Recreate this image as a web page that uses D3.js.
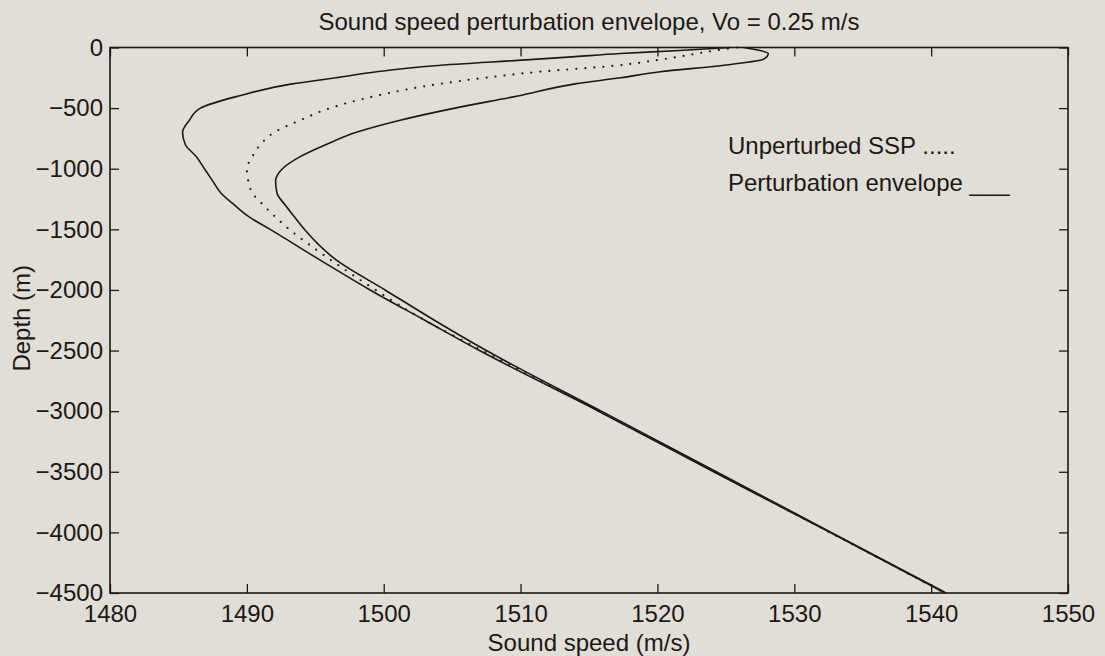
<!DOCTYPE html>
<html>
<head>
<meta charset="utf-8">
<script src="https://cdn.jsdelivr.net/npm/d3@7"></script>
<style>
  body { margin: 0; background: #e0ded6; }
  svg text { font-family: "Liberation Sans", Arial, sans-serif; fill: #1c1816; }
</style>
</head>
<body>
<div id="chart"></div>
<script>
let width = 1105, height = 656;
let margin = {top: 47.5, right: 37, bottom: 63, left: 110};

// depths (m) shared by the three profiles
let depths = [0, -25, -50, -75, -100, -150, -200, -250, -300, -400, -500, -600, -700, -800,
    -900, -1000, -1100, -1200, -1300, -1400, -1500, -1750, -2000, -2250, -2500,
    -3000, -3500, -4000, -4500];

// unperturbed sound speed profile (dotted)
let ssp = [1525.8, 1524.2, 1522.9, 1521.6, 1520.2, 1516.9, 1511.4, 1507.4, 1504.1, 1499.4,
    1496.1, 1493.9, 1492.0, 1491.0, 1490.4, 1490.0, 1490.1, 1490.4, 1491.2, 1492.1,
    1493.1, 1496.1, 1499.4, 1503.0, 1507.2, 1515.8, 1524.2, 1532.6, 1541.0];

// perturbation envelope, lower and upper bound
let envMin = [1525.3, 1521.6, 1517.3, 1514.0, 1510.7, 1503.7, 1499.5, 1496.5, 1493.3, 1489.4,
    1486.6, 1485.8, 1485.3, 1485.5, 1486.3, 1486.9, 1487.5, 1488.1, 1489.1, 1490.2,
    1491.7, 1495.3, 1499.0, 1503.0, 1507.0, 1515.7, 1524.1, 1532.6, 1541.0];
let envMax = [1526.3, 1527.5, 1528.1, 1528.0, 1527.7, 1524.6, 1520.2, 1517.3, 1514.0, 1509.8,
    1505.2, 1501.2, 1498.0, 1495.8, 1493.9, 1492.6, 1492.1, 1492.2, 1492.8, 1493.5,
    1494.2, 1496.5, 1500.1, 1503.7, 1507.5, 1515.9, 1524.3, 1532.7, 1541.1];

let xTicks = [1480, 1490, 1500, 1510, 1520, 1530, 1540, 1550];
let yTicks = [0, -500, -1000, -1500, -2000, -2500, -3000, -3500, -4000, -4500];

let titleText = "Sound speed perturbation envelope, Vo = 0.25 m/s";
let legendLabels = ["Unperturbed SSP .....", "Perturbation envelope ___"];

let w = width - margin.left - margin.right;
let h = height - margin.top - margin.bottom;
let ink = "#1c1816";
let fontSize = "24px";

let xScale = d3.scaleLinear().domain([1480, 1550]).range([0, w]);
let yScale = d3.scaleLinear().domain([-4500, 0]).range([h, 0]);

let svg = d3.select("#chart")
    .append("svg")
    .attr("width", width)
    .attr("height", height)
    .append("g")
    .attr("transform", "translate(" + margin.left + "," + margin.top + ")");

// axes, ticks pointing inward on all four sides
let fmt = d3.format("d");
svg.append("g")
    .attr("transform", "translate(0," + h + ")")
    .call(d3.axisBottom(xScale).tickValues(xTicks).tickFormat(fmt).tickSizeInner(-9).tickSizeOuter(0).tickPadding(12));
svg.append("g")
    .call(d3.axisTop(xScale).tickValues(xTicks).tickFormat("").tickSizeInner(-9).tickSizeOuter(0));
svg.append("g")
    .call(d3.axisLeft(yScale).tickValues(yTicks).tickFormat(fmt).tickSizeInner(-9).tickSizeOuter(0).tickPadding(7));
svg.append("g")
    .attr("transform", "translate(" + w + ",0)")
    .call(d3.axisRight(yScale).tickValues(yTicks).tickFormat("").tickSizeInner(-9).tickSizeOuter(0));

svg.selectAll(".domain").remove();
svg.selectAll(".tick line").attr("stroke", ink).attr("stroke-width", 1.3);
svg.selectAll(".tick text").attr("fill", ink).style("font-size", fontSize);

svg.append("rect")
    .attr("width", w)
    .attr("height", h)
    .attr("fill", "none")
    .attr("stroke", ink)
    .attr("stroke-width", 1.6);

// profiles
let line = (vals) => d3.line()
    .x((d, i) => xScale(vals[i]))
    .y(d => yScale(d))
    .curve(d3.curveMonotoneY)(depths);

svg.append("path")
    .attr("d", line(ssp))
    .attr("fill", "none")
    .attr("stroke", ink)
    .attr("stroke-width", 2.2)
    .attr("stroke-linecap", "round")
    .attr("stroke-dasharray", "0,9");

[envMin, envMax].forEach(vals => {
    svg.append("path")
        .attr("d", line(vals))
        .attr("fill", "none")
        .attr("stroke", ink)
        .attr("stroke-width", 1.6);
});

// title and axis labels
svg.append("text")
    .attr("x", w / 2)
    .attr("y", -18)
    .attr("text-anchor", "middle")
    .style("font-size", fontSize)
    .text(titleText);

svg.append("text")
    .attr("x", w / 2)
    .attr("y", h + 58)
    .attr("text-anchor", "middle")
    .style("font-size", fontSize)
    .text("Sound speed (m/s)");

svg.append("text")
    .attr("transform", "translate(" + (-80) + "," + (h / 2 - 2) + ") rotate(-90)")
    .attr("text-anchor", "middle")
    .style("font-size", fontSize)
    .text("Depth (m)");

// legend as plain text lines
legendLabels.forEach((t, i) => {
    svg.append("text")
        .attr("x", 618)
        .attr("y", 106 + i * 37)
        .style("font-size", fontSize)
        .text(t);
});
</script>
</body>
</html>
